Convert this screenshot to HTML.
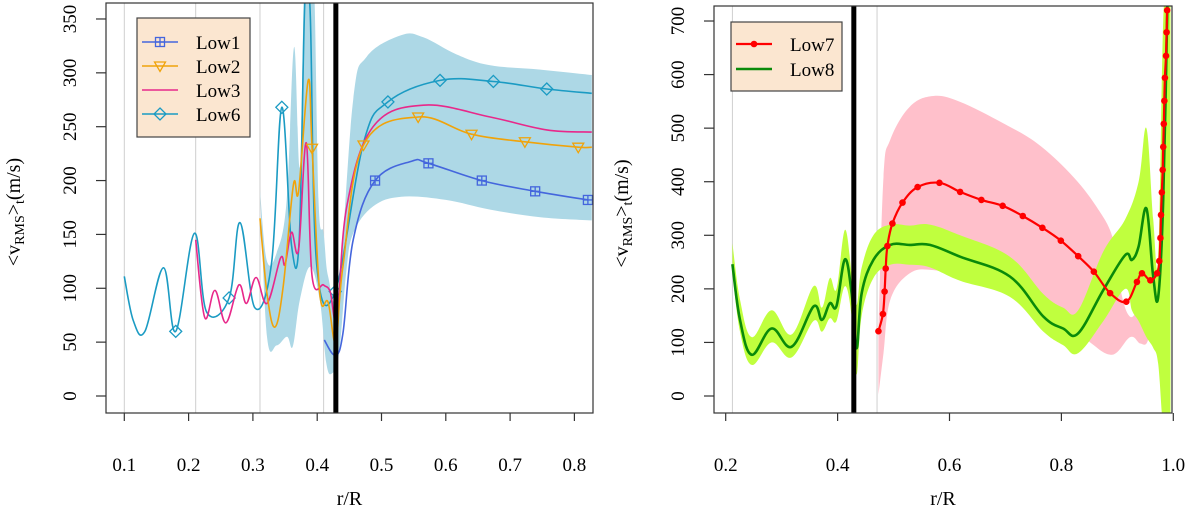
<!DOCTYPE html>
<html><head><meta charset="utf-8"><style>
html,body{margin:0;padding:0;background:#fff;width:1200px;height:511px;overflow:hidden}
svg text, svg tspan{font-family:"Liberation Serif","DejaVu Serif",serif !important;fill:#000}
</style></head><body>
<svg id="fig" width="1200" height="511" viewBox="0 0 1200 511" xmlns="http://www.w3.org/2000/svg" font-family="'Liberation Serif', serif">
<defs>
<clipPath id="clipL"><rect x="106" y="3" width="487" height="410"/></clipPath>
<clipPath id="clipR"><rect x="714" y="6" width="458" height="407"/></clipPath>
</defs>
<g id="left"></g>
<g id="right"></g>
</svg>
<script>
// ---------- LEFT PANEL DATA ----------
const low6X=[.1,.114,.132,.161,.18,.209,.228,.263,.28,.303,.329,.345,.36,.372,.381,.389,.399,.428,.472,.51,.591,.674,.757,.827];
const low6Y=[111,70,60,119,60,151,78,91,161,82,123,268,140,145,370,358,123,97,235,273,293,292,285,281];
const low6M=[.18,.263,.345,.428,.51,.591,.674,.757];
const low3X=[.211,.225,.241,.258,.278,.29,.305,.322,.343,.35,.36,.371,.383,.392,.41,.42,.431,.446,.487,.565,.669,.757,.827];
const low3Y=[145,73,98,68,103,86,110,86,128,122,152,136,235,111,103,97,72,176,250,270,259,247,245];
const low2X=[.311,.322,.334,.347,.363,.371,.386,.392,.404,.417,.429,.44,.472,.557,.64,.723,.806,.827];
const low2Y=[165,95,64,101,196,190,293,230,95,87,50,120,233,259,243,236,231,231];
const low2M=[.392,.472,.557,.64,.723,.806];
const low1X=[.411,.428,.44,.456,.49,.547,.573,.656,.739,.821];
const low1Y=[52,38,58,145,200,218,216,200,190,182];
const low1M=[.49,.573,.656,.739,.821];
const bandUX=[.311,.3215,.337,.3526,.364,.373,.381,.394,.402,.41,.417,.433,.456,.477,.531,.565,.617,.669,.747,.827];
const bandUY=[191,126,133,182,324,213,400,400,182,151,111,98,275,315,335,333,317,307,303,298];
const bandLX=[.311,.322,.337,.353,.362,.373,.389,.404,.414,.423,.434,.445,.456,.487,.531,.6,.669,.747,.827];
const bandLY=[191,55,47,55,46,89,120,89,31,21,40,114,151,176,185,182,173,166,163];
const leftTicksX=[0.1,0.2,0.3,0.4,0.5,0.6,0.7,0.8];
const leftTicksY=[0,50,100,150,200,250,300,350];
const leftGrid=[0.1,0.211,0.311,0.41];
const leftBlack=0.429;

// ---------- RIGHT PANEL DATA ----------
const low8X=[.212,.2256,.2465,.282,.318,.357,.372,.386,.398,.413,.425,.434,.443,.464,.494,.529,.565,.619,.708,.768,.803,.83,.875,.914,.926,.938,.952,.964,.973,.982,.99];
const low8Y=[246,142,77,126,92,167,142,173,168,255,192,89,192,254,282,282,282,260,223,148,126,117,198,263,254,279,350,223,185,366,760];
const gUX=[.212,.2256,.2465,.282,.318,.357,.372,.386,.398,.413,.425,.434,.443,.464,.494,.529,.565,.619,.708,.768,.803,.83,.875,.914,.938,.952,.964,.973,.982,.99,.995];
const gUY=[285,180,110,160,115,205,165,220,200,310,230,170,240,300,320,318,320,300,260,190,165,160,270,330,400,500,330,260,700,760,760];
const gLX=[.212,.2256,.2465,.282,.318,.357,.372,.386,.398,.413,.425,.434,.443,.464,.494,.529,.565,.619,.708,.768,.803,.83,.875,.914,.926,.938,.952,.964,.973,.982,.99,.995];
const gLY=[230,120,58,100,72,140,120,145,140,205,150,40,150,220,245,245,240,215,185,120,95,80,140,200,160,140,110,90,60,-60,-60,-60];
const pUX=[.473,.482,.494,.529,.571,.619,.696,.756,.815,.863,.893,.907,.923,.941,.964];
const pUY=[123,409,478,540,560,549,509,472,416,353,291,192,148,166,179];
const pLX=[.473,.482,.494,.529,.571,.619,.666,.726,.786,.845,.89,.923,.941,.955,.964];
const pLY=[2,80,179,229,235,223,204,192,154,105,77,110,98,105,179];
const low7X=[.473,.481,.484,.486,.489,.498,.516,.543,.582,.619,.657,.695,.731,.766,.799,.83,.858,.887,.916,.935,.944,.959,.971,.975,.977,.978,.9795,.981,.982,.983,.984,.985,.987,.988,.989];
const low7Y=[121,153,195,238,280,322,361,390,398,381,366,355,336,314,290,261,232,192,176,213,229,216,229,252,295,338,380,422,465,508,551,594,635,679,720];
const rightTicksX=[0.2,0.4,0.6,0.8,1.0];
const rightTicksXLab=["0.2","0.4","0.6","0.8","1.0"];
const rightTicksY=[0,100,200,300,400,500,600,700];
const rightGrid=[0.212,0.4705];
const rightBlack=0.429;

// ---------- helpers ----------
const NS="http://www.w3.org/2000/svg";
const FF="Liberation Serif, DejaVu Serif, serif";
function mk(parent,tag,attrs){const e=document.createElementNS(NS,tag);for(const k in attrs)e.setAttribute(k,attrs[k]);if(tag==="text"){e.setAttribute("font-family",FF);e.style.fontFamily='"Liberation Serif", serif';}parent.appendChild(e);return e;}
function smooth(pts){
  if(pts.length<2)return "";
  let d="M"+pts[0][0].toFixed(1)+","+pts[0][1].toFixed(1);
  for(let i=0;i<pts.length-1;i++){
    const p0=pts[i-1]||pts[i],p1=pts[i],p2=pts[i+1],p3=pts[i+2]||p2;
    const t=0.18;
    const c1=[p1[0]+(p2[0]-p0[0])*t,p1[1]+(p2[1]-p0[1])*t];
    const c2=[p2[0]-(p3[0]-p1[0])*t,p2[1]-(p3[1]-p1[1])*t];
    d+="C"+c1[0].toFixed(1)+","+c1[1].toFixed(1)+" "+c2[0].toFixed(1)+","+c2[1].toFixed(1)+" "+p2[0].toFixed(1)+","+p2[1].toFixed(1);
  }
  return d;
}
function interp(xs,ys,x){for(let i=0;i<xs.length-1;i++){if(x>=xs[i]&&x<=xs[i+1]){const f=(x-xs[i])/(xs[i+1]-xs[i]||1);return ys[i]+f*(ys[i+1]-ys[i]);}}return ys[ys.length-1];}
function marker(g,type,x,y,color){
  if(type==="sq"){mk(g,"rect",{x:x-4.5,y:y-4.5,width:9,height:9,fill:"none",stroke:color,"stroke-width":1.3});
    mk(g,"path",{d:`M${x-4.5},${y}H${x+4.5}M${x},${y-4.5}V${y+4.5}`,stroke:color,"stroke-width":1.3});}
  else if(type==="tri"){mk(g,"path",{d:`M${x-5.5},${y-4}L${x+5.5},${y-4}L${x},${y+5.5}Z`,fill:"none",stroke:color,"stroke-width":1.3});}
  else if(type==="dia"){mk(g,"path",{d:`M${x},${y-6}L${x+6},${y}L${x},${y+6}L${x-6},${y}Z`,fill:"none",stroke:color,"stroke-width":1.3});}
  else if(type==="dot"){mk(g,"circle",{cx:x,cy:y,r:3.3,fill:color});}
}

function panel(cfg){
  const root=document.getElementById(cfg.id);
  const sx=v=>cfg.x0+(v-cfg.xa)*cfg.xs;
  const sy=v=>cfg.y0-v*cfg.ys;
  const B=cfg.box;
  cfg.grid.forEach(v=>{const l=mk(root,"line",{x1:sx(v),x2:sx(v),y1:B.t,y2:B.b,stroke:"#cfcfcf","stroke-width":1});
    
    });
  const plot=mk(root,"g",{"clip-path":`url(#${cfg.clip})`});
  
  
  cfg.bands.forEach(b=>{
    const up=b.ux.map((x,i)=>[sx(x),sy(b.uy[i])]);
    const lo=b.lx.map((x,i)=>[sx(x),sy(b.ly[i])]).reverse();
    const d=smooth(up)+"L"+lo[0][0]+","+lo[0][1]+smooth(lo).replace(/^M/,"L")+"Z";
    const p=mk(plot,"path",{d:d,fill:b.color,stroke:"none"});
    
    
  });
  cfg.series.forEach(s=>{
    const pts=s.x.map((x,i)=>[sx(x),sy(s.y[i])]);
    const p=mk(plot,"path",{d:smooth(pts),fill:"none",stroke:s.color,"stroke-width":s.w,"stroke-linejoin":"round"});
    
    
    const mg=mk(plot,"g",{});
    
    
    const mx=s.m==="all"?s.x:(s.m||[]);
    mx.forEach(x=>{const yv=s.m==="all"?s.y[s.x.indexOf(x)]:interp(s.x,s.y,x);marker(mg,s.type,sx(x),sy(yv),s.color);});
  });
  const bl=mk(root,"line",{x1:sx(cfg.black),x2:sx(cfg.black),y1:B.t,y2:B.b,stroke:"#000","stroke-width":5});
  
  
  const box=mk(root,"rect",{x:B.l,y:B.t,width:B.r-B.l,height:B.b-B.t,fill:"none",stroke:"#333","stroke-width":1.2});
  
  
  cfg.tx.forEach((v,i)=>{
    mk(root,"line",{x1:sx(v),x2:sx(v),y1:B.b,y2:B.b+8,stroke:"#333","stroke-width":1.2});
    const t=mk(root,"text",{x:sx(v),y:471,"text-anchor":"middle","font-size":19});
    t.textContent=cfg.txl?cfg.txl[i]:String(v);
    
    
  });
  cfg.ty.forEach(v=>{
    mk(root,"line",{x1:B.l,x2:B.l-10,y1:sy(v),y2:sy(v),stroke:"#333","stroke-width":1.2});
    const t=mk(root,"text",{x:0,y:0,"text-anchor":"middle","font-size":19,transform:`translate(${B.l-30},${sy(v)}) rotate(-90)`});
    t.textContent=String(v);
    
    
  });
  const xt=mk(root,"text",{x:(B.l+B.r)/2,y:505,"text-anchor":"middle","font-size":20});
  xt.textContent="r/R";
  
  
  const yt=mk(root,"text",{x:0,y:0,"text-anchor":"middle","font-size":20,transform:`translate(${cfg.ylx},${(B.t+B.b)/2+4}) rotate(-90)`});
  yt.innerHTML='&lt;v<tspan font-size="14" dy="4">RMS</tspan><tspan dy="-4">&gt;</tspan><tspan font-size="14" dy="4">t</tspan><tspan dy="-4">(m/s)</tspan>';
  
  
  const L=cfg.legend;
  const lg=mk(root,"g",{});
  
  
  mk(lg,"rect",{x:L.x,y:L.y,width:L.w,height:L.h,fill:"#fbe6d0",stroke:"#444","stroke-width":1.2});
  L.items.forEach((it,i)=>{
    const y=L.y0+i*L.dy;
    const e=mk(lg,"g",{});
    
    
    mk(e,"line",{x1:L.lx1,x2:L.lx2,y1:y,y2:y,stroke:it.color,"stroke-width":it.w});
    if(it.type)marker(e,it.type,(L.lx1+L.lx2)/2,y,it.color);
    const t=mk(e,"text",{x:L.tx,y:y+7,"font-size":19});
    t.textContent=it.name;
  });
}

panel({id:"left",clip:"clipL",x0:124.3,xa:0.1,xs:643,y0:396,ys:53.86/50,
  box:{l:106,r:593,t:3,b:413},grid:leftGrid,black:leftBlack,tx:leftTicksX,ty:leftTicksY,ylx:20,
  bands:[{name:"low6-confidence-band",ux:bandUX,uy:bandUY,lx:bandLX,ly:bandLY,color:"#add8e6"}],
  series:[
    {name:"low6",x:low6X,y:low6Y,m:low6M,type:"dia",color:"#1b9bc3",w:1.6},
    {name:"low3",x:low3X,y:low3Y,m:[],type:null,color:"#e8288a",w:1.6},
    {name:"low2",x:low2X,y:low2Y,m:low2M,type:"tri",color:"#f0a30a",w:1.6},
    {name:"low1",x:low1X,y:low1Y,m:low1M,type:"sq",color:"#4466dd",w:1.6}],
  legend:{x:137,y:18,w:113,h:119,y0:42,dy:24,lx1:142,lx2:178,tx:196,items:[
    {name:"Low1",color:"#4466dd",type:"sq",w:1.6},{name:"Low2",color:"#f0a30a",type:"tri",w:1.6},
    {name:"Low3",color:"#e8288a",type:null,w:1.6},{name:"Low6",color:"#1b9bc3",type:"dia",w:1.6}]}
});
panel({id:"right",clip:"clipR",x0:725.7,xa:0.2,xs:559.5,y0:396,ys:0.5357,
  box:{l:714,r:1172,t:6,b:413},grid:rightGrid,black:rightBlack,tx:rightTicksX,txl:rightTicksXLab,ty:rightTicksY,ylx:628,
  bands:[{name:"low7-confidence-band",ux:pUX,uy:pUY,lx:pLX,ly:pLY,color:"#ffc0cb"},
         {name:"low8-confidence-band",ux:gUX,uy:gUY,lx:gLX,ly:gLY,color:"#c0ff3e"}],
  series:[
    {name:"low8",x:low8X,y:low8Y,m:[],type:null,color:"#0a8a0a",w:2.6},
    {name:"low7",x:low7X,y:low7Y,m:"all",type:"dot",color:"#ff0000",w:2.2}],
  legend:{x:731,y:22,w:111,h:69,y0:44,dy:25,lx1:736,lx2:772,tx:790,items:[
    {name:"Low7",color:"#ff0000",type:"dot",w:2.2},{name:"Low8",color:"#0a8a0a",type:null,w:2.6}]}
});
</script>
</body></html>
